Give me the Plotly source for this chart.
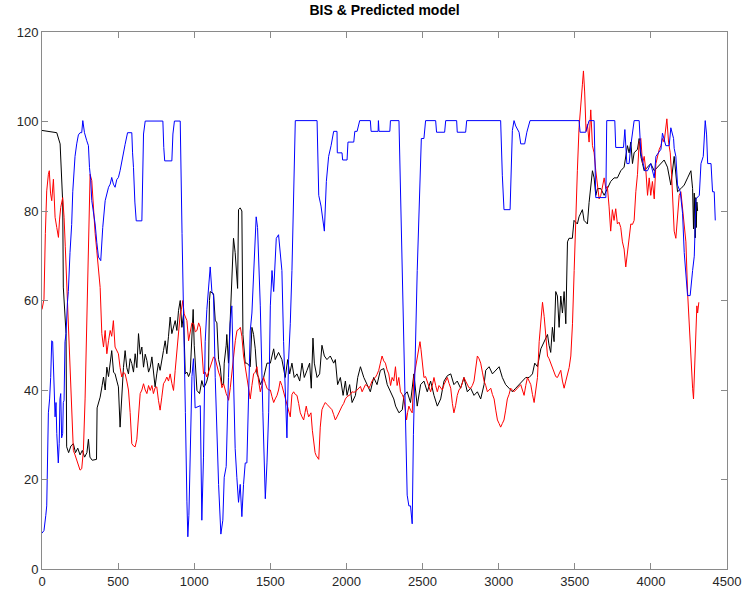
import plotly.graph_objects as go

# ---------------- data ----------------
black_x = [0, 20, 50, 97, 119, 130, 136, 140, 151, 158, 162, 175, 190, 206, 220, 235, 250, 265, 280, 295,
           305, 315, 330, 345, 358, 362, 382, 395, 404, 415, 426, 437, 448, 458, 470, 480, 492, 502, 513, 524,
           535, 546, 557, 568, 579, 590, 601, 612, 623, 634, 645, 656, 667, 678, 689, 700, 711, 722, 732, 743,
           754, 765, 776, 787, 798, 809, 820, 831, 842, 853, 864, 875, 886, 897, 908, 919, 930, 941, 952, 963,
           974, 985, 993, 1000, 1007, 1018, 1035, 1050, 1061, 1072, 1083, 1094, 1100, 1105, 1127, 1138, 1149,
           1160, 1171, 1182, 1193, 1197, 1210, 1214, 1225, 1236, 1247, 1258, 1269, 1280, 1285, 1291, 1302, 1313,
           1320, 1335, 1346, 1368, 1379, 1390, 1401, 1412, 1423, 1434, 1456, 1478, 1500, 1511, 1522, 1532, 1554,
           1576, 1598, 1614, 1627, 1642, 1657, 1675, 1693, 1708, 1723, 1741, 1758, 1769, 1780, 1789, 1807, 1824,
           1839, 1855, 1872, 1894, 1916, 1927, 1942, 1960, 1978, 1993, 2004, 2021, 2037, 2059, 2074, 2092, 2114,
           2136, 2157, 2179, 2201, 2223, 2245, 2268, 2290, 2311, 2323, 2345, 2367, 2378, 2399, 2421, 2443, 2465,
           2487, 2509, 2531, 2553, 2575, 2597, 2619, 2641, 2663, 2685, 2706, 2728, 2750, 2772, 2794, 2816, 2838,
           2860, 2882, 2904, 2915, 2937, 2959, 2981, 3003, 3024, 3046, 3068, 3090, 3112, 3134, 3156, 3178, 3200,
           3222, 3237, 3255, 3277, 3299, 3321, 3331, 3342, 3353, 3364, 3375, 3386, 3397, 3408, 3419, 3430, 3441,
           3452, 3462, 3484, 3495, 3517, 3528, 3550, 3561, 3583, 3594, 3605, 3616, 3627, 3638, 3649, 3671, 3693,
           3714, 3736, 3758, 3780, 3802, 3824, 3846, 3857, 3868, 3879, 3890, 3912, 3923, 3934, 3956, 3978, 3999,
           4022, 4044, 4066, 4087, 4109, 4131, 4153, 4175, 4197, 4219, 4241, 4263, 4274, 4280, 4285, 4291, 4295,
           4298, 4302, 4307]
black_y = [98, 97.9, 97.6, 97.5, 95, 83.8, 82, 63, 57, 52.6, 27.3, 26, 27.5, 28, 26, 27, 25.5, 26.5, 25, 26,
           29, 25, 24.3, 24.5, 24.5, 36, 38.4, 41, 42.9, 40, 45.1, 43, 45.9, 48.8, 44, 43.6, 42, 40.7, 31.7, 39.2,
           45, 48.8, 45, 43.6, 47, 45.9, 44, 48.1, 45, 52.6, 48, 49.6, 45.1, 48, 46.6, 44, 45.1, 47.4, 43.6, 40.7,
           43.6, 46, 44.4, 47, 48.8, 51, 48.1, 52, 56.3, 52.6, 54, 55.5, 53.3, 57.8, 60, 54, 57, 43.6, 44, 43,
           44, 52.6, 58, 50, 45, 39.9, 39.2, 42.1, 40.7, 41, 42, 43.6, 60, 62, 61.5, 55.6, 55,
           46.8, 45.1, 41.2, 41.4, 46, 50, 52.4, 46, 56.4, 63.5, 73.9, 70.7, 65.1, 62.7, 80.3, 80.7, 80,
           52.4, 46, 46, 45.2, 54, 52.4, 49.2, 43.6, 42.8, 41.2, 42.8, 46, 46, 47.6, 49.2, 46.8, 48.4,
           46.8, 42.8, 46.8, 43.6, 46, 42.8, 43.6, 42, 46, 42.8, 44.4, 46, 40.4, 51.6, 46, 42.8, 43.6,
           50, 47.6, 46.8, 47.6, 46, 46.8, 41.2, 42.8, 38.8, 42, 38.8, 41.2, 37.2, 38.8, 42.8, 45.2, 42.8,
           41.2, 39.6, 42.8, 41.2, 44.4, 44.8, 41.2, 39.6, 38, 36.4, 34.9, 35.6, 38.8, 39.6, 37.2, 43.6, 36.4,
           41.2, 42, 39.6, 42, 38.8, 36.4, 38, 42, 43.2, 43.6, 41.2, 42, 40.4, 42.8, 39.6, 40.4, 38.8,
           39.6, 38, 41.2, 44.4, 45.2, 43.6, 44.4, 45.2, 42.8, 41.2, 40.4, 39.6, 40.4, 41.2, 42, 42.8, 42.8,
           43.6, 46, 45.2, 49.2, 50.8, 52.4, 50, 48.4, 54, 50.8, 62, 61, 54, 61, 57.2, 62, 54.8,
           73.1, 73.9, 73.9, 77.9, 77.1, 78.7, 80.3, 77.9, 77.1, 81.9, 85.8, 89, 87.4, 83.5, 85, 85, 83.5,
           85, 86.6, 87.4, 87.4, 89, 89.8, 94.6, 93, 95.4, 90.6, 93, 93.8, 96.2, 92.2, 89, 89.8, 90.6,
           89, 89.8, 90.6, 91.4, 89.8, 85.8, 92.2, 84.3, 85, 85.8, 87.4, 89, 85, 76, 84, 74, 83,
           76.3, 82, 80]

red_x = [0, 13, 22, 31, 42, 48, 56, 64, 75, 86, 97, 108, 115, 123, 136, 145, 153, 162, 173, 184, 195, 206,
         217, 228, 239, 250, 261, 272, 283, 294, 305, 316, 327, 338, 349, 360, 371, 382, 393, 404, 415, 426,
         437, 448, 458, 469, 480, 491, 502, 513, 524, 535, 546, 557, 568, 579, 590, 601, 612, 623, 634, 645,
         656, 667, 678, 689, 700, 711, 722, 732, 743, 754, 765, 776, 787, 798, 809, 820, 831, 842, 853, 864,
         875, 886, 897, 908, 916, 925, 934, 943, 952, 963, 974, 985, 996, 1007, 1018, 1029, 1040, 1050, 1061,
         1072, 1083, 1094, 1105, 1116, 1127, 1138, 1149, 1160, 1171, 1182, 1193, 1203, 1210, 1219, 1226, 1237,
         1247, 1259, 1270, 1281, 1292, 1303, 1313, 1324, 1335, 1346, 1357, 1368, 1379, 1390, 1401, 1412, 1423,
         1434, 1445, 1456, 1467, 1478, 1489, 1500, 1511, 1522, 1532, 1544, 1554, 1565, 1576, 1587, 1598, 1609,
         1620, 1631, 1642, 1653, 1664, 1675, 1686, 1697, 1708, 1719, 1728, 1736, 1744, 1752, 1760, 1767, 1776,
         1785, 1794, 1802, 1810, 1818, 1828, 1839, 1850, 1861, 1872, 1883, 1894, 1905, 1916, 1927, 1938, 1949,
         1960, 1971, 1982, 1993, 2004, 2015, 2026, 2037, 2048, 2059, 2070, 2081, 2092, 2103, 2114, 2125, 2136,
         2147, 2157, 2168, 2179, 2190, 2201, 2212, 2223, 2234, 2245, 2256, 2267, 2278, 2290, 2300, 2311, 2322,
         2333, 2344, 2355, 2367, 2378, 2386, 2395, 2402, 2410, 2421, 2432, 2443, 2454, 2465, 2474, 2483, 2490,
         2498, 2509, 2520, 2531, 2542, 2553, 2564, 2575, 2586, 2597, 2608, 2619, 2630, 2641, 2652, 2663, 2674,
         2685, 2696, 2706, 2717, 2728, 2739, 2750, 2761, 2772, 2783, 2794, 2805, 2816, 2827, 2838, 2849, 2860,
         2871, 2882, 2893, 2904, 2915, 2926, 2937, 2948, 2959, 2970, 2981, 2992, 3003, 3013, 3024, 3035, 3046,
         3057, 3068, 3079, 3090, 3101, 3112, 3123, 3134, 3145, 3156, 3167, 3178, 3189, 3200, 3211, 3222, 3233,
         3244, 3255, 3266, 3277, 3288, 3299, 3310, 3321, 3331, 3342, 3353, 3364, 3375, 3386, 3397, 3408, 3419,
         3430, 3441, 3452, 3463, 3474, 3485, 3496, 3506, 3517, 3528, 3539, 3550, 3557, 3565, 3574, 3583, 3594,
         3605, 3616, 3627, 3638, 3649, 3660, 3671, 3682, 3693, 3704, 3714, 3725, 3736, 3747, 3758, 3769, 3780,
         3791, 3802, 3813, 3824, 3835, 3846, 3857, 3868, 3879, 3890, 3901, 3912, 3923, 3934, 3945, 3956, 3967,
         3978, 3989, 3999, 4010, 4022, 4033, 4044, 4055, 4066, 4076, 4087, 4098, 4105, 4116, 4127, 4136, 4147,
         4153, 4164, 4175, 4186, 4197, 4208, 4219, 4230, 4241, 4252, 4263, 4274, 4280, 4289, 4296, 4302, 4307,
         4315]
red_y = [58, 60.3, 75, 84.5, 88.2, 89, 84, 82.3, 87.1, 78.6, 76.3, 74.1, 78, 80.8, 83, 78.6, 72, 63.7, 55,
         45.1, 35, 26.5, 25.5, 24.3, 23, 22.1, 22.4, 26.5, 38, 52.6, 72, 88.2, 86.8, 80.1, 75, 71.1, 67, 62.9,
         52.6, 49.6, 53.3, 48.1, 51, 53.3, 52, 55.5, 49.6, 49, 48.1, 45, 42.9, 44, 43.6, 42, 40, 35, 28, 27.5,
         27.3, 29, 33.2, 39.2, 40, 41.4, 40, 39.2, 41, 39.9, 41, 39.2, 40.5, 40.7, 37.7, 35.5, 38.4, 41.4, 42,
         42.9, 42, 43.6, 41.5, 39.9, 44.4, 48.8, 52.6, 57, 58, 60, 57, 56, 55.5, 51, 53.3, 55, 54.8, 53, 53.3,
         55, 54, 48, 43.6, 44, 42.9, 44, 45.1, 46, 47.4, 47, 45.1, 44, 42.9, 40.5, 41.4, 40, 39.2, 38.5, 37.7,
         40.5, 44, 48.8, 51, 53.3, 53.5, 54, 52, 47.6, 45, 42.8, 40, 38, 41, 43.6, 44, 45.2, 42, 39.6, 41,
         42.8, 41.5, 40.4, 40, 40, 38.5, 37.2, 38, 38.8, 40, 42, 41, 39.6, 38, 36.4, 35, 34, 39, 39.6, 39,
         38.8, 37, 34.9, 34, 33.3, 35, 36.4, 35, 34, 34.5, 34.9, 31, 27.7, 26, 25.3, 24.8, 24.5, 31.7, 35.6,
         36.5, 37.2, 36.8, 36.4, 36, 35.6, 34.5, 33.3, 34, 34.9, 35.5, 36.4, 37, 38, 38.5, 38.8, 39, 39.6,
         39.5, 39.6, 40, 40.4, 40.8, 39.6, 40.5, 41.2, 41, 40.4, 41, 42, 42.5, 42.8, 43.5, 44.4, 46, 47.6,
         46.5, 46, 44.5, 43.6, 41, 42.8, 42, 45.2, 41, 42.8, 39.6, 39, 38, 36, 33.3, 35, 36.4, 35.5, 34.9,
         42.8, 45, 47.6, 49, 50.8, 49, 46.8, 42.8, 43, 42, 41, 39.6, 41, 42.8, 41, 39.6, 41, 40.5, 40, 41.2,
         42, 42.8, 41.5, 40.4, 37, 34.9, 36.5, 38.8, 40, 40.5, 41.5, 42.8, 42, 41.2, 40.5, 40.4, 41, 42, 45,
         47.6, 47, 46, 44, 42, 41, 39.6, 40, 40.4, 39, 38, 35.5, 33.3, 32.5, 31.7, 32.5, 33.3, 35.5, 38, 39,
         40.4, 40, 39.6, 40, 40.4, 41, 41.2, 40, 38.8, 41, 42.8, 42, 41.2, 39, 37.2, 40, 42.8, 50.8, 56.4,
         59.6, 56.4, 52.4, 47.6, 47, 46, 45, 43.6, 43, 42.8, 43.5, 44.4, 42, 40.4, 42, 43.6, 45, 47.6, 54.8,
         66.7, 80, 89, 98.6, 102.6, 108.2, 111.3, 106.6, 97.8, 99.4, 95.4, 102.6, 94.6, 93, 89, 85.8, 82.7,
         83.5, 85.8, 87.4, 85, 85.5, 81.1, 75.5, 80.3, 77.9, 80.5, 77.1, 77.5, 76.3, 73.1, 71.5, 67.5, 70.7,
         73.9, 77.1, 77, 77.9, 84.3, 88.2, 95.4, 96.2, 90.6, 92.2, 89, 83.5, 87.4, 83.5, 86.6, 82.7, 90.6,
         92.2, 93.8, 94.6, 96.2, 95.4, 98.6, 100.6, 95.4, 93, 88.2, 80.3, 75.5, 73.9, 77.9, 83.5, 84.3, 80.3,
         76.3, 73.1, 61.9, 54, 47.6, 40.4, 38, 46.8, 54, 58.8, 57.2, 59.6]

blue_x = [0, 13, 25, 31, 42, 50, 57, 64, 70, 75, 79, 86, 92, 97, 107, 113, 118, 123, 129, 136, 140, 145, 151,
          158, 167, 173, 184, 195, 202, 210, 217, 228, 239, 250, 261, 268, 279, 294, 305, 312, 320, 327, 349,
          360, 371, 386, 399, 415, 437, 448, 458, 469, 480, 491, 502, 513, 524, 535, 546, 562, 580, 590, 595,
          601, 610, 619, 656, 662, 667, 678, 794, 800, 806, 853, 860, 870, 908, 920, 930, 942, 952, 958, 965,
          975, 985, 995, 1003, 1006, 1040, 1046, 1050, 1061, 1072, 1083, 1094, 1105, 1116, 1127, 1138, 1149,
          1160, 1175, 1188, 1197, 1210, 1225, 1236, 1247, 1258, 1269, 1280, 1291, 1302, 1313, 1324, 1335, 1346,
          1357, 1368, 1379, 1394, 1407, 1416, 1425, 1434, 1451, 1467, 1478, 1489, 1500, 1511, 1522, 1539, 1554,
          1565, 1576, 1587, 1598, 1609, 1620, 1631, 1642, 1653, 1664, 1807, 1812, 1818, 1833, 1846, 1855, 1868,
          1883, 1899, 1916, 1938, 1940, 1971, 1975, 2004, 2010, 2048, 2055, 2070, 2087, 2157, 2162, 2208, 2210,
          2214, 2285, 2289, 2345, 2399, 2410, 2421, 2432, 2440, 2465, 2492, 2509, 2520, 2586, 2592, 2645, 2652,
          2724, 2728, 2783, 2790, 3013, 3024, 3035, 3075, 3090, 3101, 3112, 3134, 3145, 3171, 3185, 3206, 3528,
          3535, 3572, 3594, 3627, 3638, 3704, 3710, 3763, 3769, 3820, 3829, 3842, 3857, 3868, 3890, 3923, 3934,
          3960, 3978, 3999, 4022, 4033, 4066, 4076, 4098, 4120, 4131, 4149, 4153, 4164, 4175, 4193, 4208, 4219,
          4241, 4258, 4274, 4285, 4296, 4318, 4329, 4344, 4357, 4366, 4373, 4395, 4405, 4416, 4423]
blue_y = [8, 8.6, 12, 14.1, 34.9, 38, 42.8, 51, 50.8, 45.1, 43.6, 34, 37.2, 30.3, 23.7, 28, 38, 39.2, 29.3,
          30.3, 37.2, 37.7, 50.8, 52.6, 59.5, 62, 70.7, 77, 84.3, 88, 92.2, 95, 97, 97.5, 97.5, 100.2, 97.5,
          95.7, 94.6, 89.7, 87, 82.3, 77.1, 73, 69.7, 68.9, 76.3, 82.3, 85.3, 86, 87.5, 86, 85.3, 87, 87.5, 89,
          91.2, 93, 94.9, 97.5, 97.5, 97.5, 93, 89.7, 82, 77.8, 77.8, 90, 97.2, 100.1, 100.1, 94.2, 91.2, 91.2,
          97.2, 100.1, 100.1, 75, 60, 35, 15, 7.2, 12, 30, 43, 47, 40, 36, 36.5, 12, 10.9, 25, 50.8, 58, 62,
          67.5, 62, 61.1, 42.8, 30, 18.9, 7.8, 10.9, 20.5, 22.9, 42.8, 54.8, 58.8, 42.8, 26.9, 20.5, 14.9,
          18.9, 11.7, 18.9, 23.7, 23.7, 36.4, 53.2, 57.2, 70.7, 78.7, 76.3, 68, 58.8, 34.9, 15.7, 23.7, 34.9,
          58.8, 66.7, 62, 73.9, 74.7, 70.7, 66.7, 50.8, 38.8, 29.3, 46.8, 54.8, 66.7, 85, 100.2, 100.2, 90,
          83.5, 81.1, 77.9, 75.5, 86.6, 92.2, 94.6, 97.8, 97.8, 93, 93, 91.4, 91.4, 95.4, 95.4, 97.8, 97.8,
          100.2, 100.2, 97.8, 97.8, 100.2, 97.8, 97.8, 100.2, 100.2, 16.5, 14.1, 14.1, 10.1, 30, 66.7, 96.2,
          96.2, 100.2, 100.2, 97.6, 97.6, 100.2, 100.2, 97.6, 97.6, 100.2, 100.2, 88, 80.3, 80.3, 98, 100.2,
          99, 97.6, 95, 95, 97.6, 100.2, 100.2, 97.6, 97.6, 100.2, 100.2, 83, 83, 100.2, 100.2, 94.2, 94.2,
          98.2, 90.6, 90.6, 94.6, 100.2, 100.2, 93, 89, 89, 90.6, 87.4, 92.2, 93.8, 97.4, 94.6, 94.6, 98.6,
          96.2, 94, 92.2, 85.8, 84.3, 79.5, 70.7, 61.1, 61.1, 66.7, 69.9, 82.7, 83.5, 90.6, 92.2, 100.2, 97,
          90.6, 90.6, 84.3, 84.3, 77.9]

x_ticks = [0, 500, 1000, 1500, 2000, 2500, 3000, 3500, 4000, 4500]
y_ticks = [0, 20, 40, 60, 80, 100, 120]
title_text = "BIS & Predicted model"

# ---------------- figure ----------------
fig = go.Figure()
fig.add_trace(go.Scatter(x=black_x, y=black_y, mode="lines",
                         line=dict(color="#000000", width=1), showlegend=False))
fig.add_trace(go.Scatter(x=red_x, y=red_y, mode="lines",
                         line=dict(color="#ff0000", width=1), showlegend=False))
fig.add_trace(go.Scatter(x=blue_x, y=blue_y, mode="lines",
                         line=dict(color="#0000ff", width=1), showlegend=False))

axis_common = dict(showgrid=False, zeroline=False, showline=True, linecolor="#8a8a8a", linewidth=1,
                   mirror="ticks", ticks="inside", ticklen=6, tickcolor="#8a8a8a", automargin=False,
                   tickfont=dict(family="Liberation Sans, Arial, sans-serif", size=13, color="#262626"))

fig.update_layout(
    width=746, height=597,
    margin=dict(l=42, r=19, t=32, b=28, autoexpand=False),
    paper_bgcolor="white", plot_bgcolor="white",
    title=dict(text="<b>" + title_text + "</b>", x=0.5155, xanchor="center", y=0.983, yanchor="middle",
               font=dict(family="Liberation Sans, Arial, sans-serif", size=14, color="#000000")),
    xaxis=dict(range=[0, 4500], tickvals=x_ticks, ticktext=[str(v) for v in x_ticks], **axis_common),
    yaxis=dict(range=[0, 120], tickvals=y_ticks, ticktext=[str(v) for v in y_ticks], **axis_common),
)

fig.write_html("out.html", config={"displayModeBar": False},
               post_script="document.body.style.margin='0';")
